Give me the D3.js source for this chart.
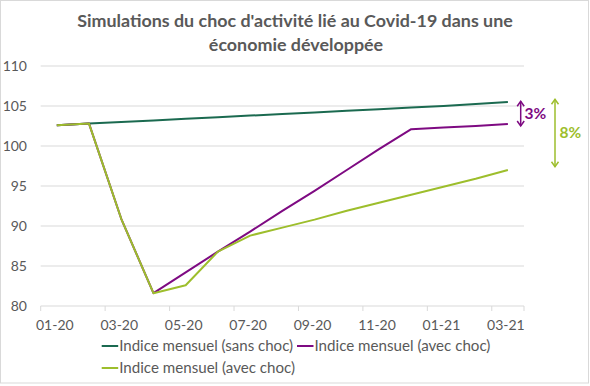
<!DOCTYPE html>
<html>
<head>
<meta charset="utf-8">
<script src="https://cdn.jsdelivr.net/npm/d3@7"></script>
<style>
	body { margin: 0; background: #fff; }
	svg text { font-family: Lato, 'Open Sans', sans-serif; }
</style>
</head>
<body>
<svg id="chart"></svg>
<script>
// ========== DATA ==========
var months = ['01-20', '02-20', '03-20', '04-20', '05-20', '06-20', '07-20', '08-20',
	'09-20', '10-20', '11-20', '12-20', '01-21', '02-21', '03-21'];
var sansChoc = [102.6, 102.8, 103.0, 103.2, 103.4, 103.6, 103.8, 104.0, 104.2, 104.4, 104.6, 104.8, 105.0, 105.25, 105.5];
var avecChocViolet = [102.6, 102.8, 90.9, 81.6, 84.2, 86.8, 89.3, 91.9, 94.4, 97.0, 99.6, 102.1, 102.3, 102.5, 102.75];
var avecChocVert = [102.6, 102.8, 90.9, 81.6, 82.6, 86.8, 88.8, 89.8, 90.8, 91.9, 92.9, 93.9, 94.9, 95.9, 97.0];
var yTicks = [80, 85, 90, 95, 100, 105, 110];
var seriesNames = ['Indice mensuel (sans choc)', 'Indice mensuel (avec choc)', 'Indice mensuel (avec choc)'];
// annotation arrows: top / bottom value, label
var gaps = [
	{label: '3%', top: 105.6, bottom: 102.5},
	{label: '8%', top: 105.85, bottom: 97.4}
];

// ========== STYLE ==========
var W = 590, H = 386;
var text_color = '#595959';
var grid_color = '#d9d9d9';
var colors = ['#1b6a50', '#7e0a82', '#9dbe2c'];

var svg = d3.select('#chart').attr('width', W).attr('height', H);

// border
svg.append('rect')
	.attr('x', 0.5).attr('y', 0.5)
	.attr('width', 588).attr('height', 382.5)
	.attr('fill', '#fff')
	.attr('stroke', grid_color);

var x = d3.scaleBand().domain(months).range([40.7, 524]).paddingInner(0).paddingOuter(0);
var y = d3.scaleLinear().domain([80, 110]).range([306, 66]);
function cx(m) { return x(m) + x.bandwidth() / 2; }

// grid
svg.append('g')
	.selectAll('line')
	.data(yTicks.slice(1))
	.enter().append('line')
	.attr('x1', 40.7).attr('x2', 524)
	.attr('y1', function(d) { return y(d); })
	.attr('y2', function(d) { return y(d); })
	.attr('stroke', grid_color)
	.attr('stroke-width', 1);

// y labels
svg.append('g')
	.selectAll('text')
	.data(yTicks)
	.enter().append('text')
	.attr('x', 27)
	.attr('y', function(d) { return y(d); })
	.attr('dy', '0.35em')
	.attr('text-anchor', 'end')
	.attr('fill', text_color)
	.style('font-size', '14px')
	.text(function(d) { return d; });

// x axis line + ticks
svg.append('line')
	.attr('x1', 40.7).attr('x2', 524)
	.attr('y1', y(80)).attr('y2', y(80))
	.attr('stroke', grid_color);

var tickPos = months.filter(function(d, i) { return i % 2 === 0; }).map(function(m) { return x(m); });
tickPos.push(524);
svg.append('g')
	.selectAll('line')
	.data(tickPos)
	.enter().append('line')
	.attr('x1', function(d) { return d; })
	.attr('x2', function(d) { return d; })
	.attr('y1', y(80)).attr('y2', y(80) + 5)
	.attr('stroke', grid_color);

svg.append('g')
	.selectAll('text')
	.data(months.filter(function(d, i) { return i % 2 === 0; }))
	.enter().append('text')
	.attr('x', function(d) { return cx(d) - 2; })
	.attr('y', 330)
	.attr('text-anchor', 'middle')
	.attr('fill', text_color)
	.style('font-size', '14px')
	.text(function(d) { return d; });

// lines
var line = d3.line()
	.x(function(d, i) { return cx(months[i]); })
	.y(function(d) { return y(d); });

[sansChoc, avecChocViolet, avecChocVert].forEach(function(s, i) {
	svg.append('path')
		.datum(s)
		.attr('d', line)
		.attr('fill', 'none')
		.attr('stroke', colors[i])
		.attr('stroke-width', 2)
		.attr('stroke-linejoin', 'round');
});

// gap arrows
var arrowX = [520.7, 555];
var labelX = [524.5, 559.5];
var gapColors = [colors[1], colors[2]];
gaps.forEach(function(g, i) {
	var ax = arrowX[i];
	var y1 = y(g.top), y2 = y(g.bottom);
	var a = svg.append('g')
		.attr('stroke', gapColors[i])
		.attr('stroke-width', 1.5)
		.attr('fill', 'none');
	a.append('line').attr('x1', ax).attr('x2', ax).attr('y1', y1).attr('y2', y2);
	a.append('path').attr('d', d3.line()([[ax - 3.5, y1 + 5], [ax, y1], [ax + 3.5, y1 + 5]]));
	a.append('path').attr('d', d3.line()([[ax - 3.5, y2 - 5], [ax, y2], [ax + 3.5, y2 - 5]]));
	svg.append('text')
		.attr('x', labelX[i])
		.attr('y', (y1 + y2) / 2 - 0.5)
		.attr('dy', '0.35em')
		.attr('fill', gapColors[i])
		.style('font-size', '15.5px')
		.style('font-weight', 'bold')
		.text(g.label);
});

// fit a text to a given width
function fit(t, w) {
	var cur = parseFloat(t.style('font-size'));
	var len = t.node().getComputedTextLength();
	t.style('font-size', (cur * w / len) + 'px');
}

// title
var t1 = svg.append('text')
	.attr('x', 295).attr('y', 27)
	.attr('text-anchor', 'middle')
	.attr('fill', text_color)
	.style('font-size', '18px')
	.style('font-weight', 'bold')
	.text("Simulations du choc d'activité lié au Covid-19 dans une");
fit(t1, 436);
svg.append('text')
	.attr('x', 296).attr('y', 51)
	.attr('text-anchor', 'middle')
	.attr('fill', text_color)
	.style('font-size', t1.style('font-size'))
	.style('font-weight', 'bold')
	.text('économie développée');

// legend
var legendItems = [
	{x: 101.7, y: 346, w: 174},
	{x: 297, y: 346, w: 176},
	{x: 101.7, y: 368, w: 176}
];
legendItems.forEach(function(it, i) {
	svg.append('line')
		.attr('x1', it.x).attr('x2', it.x + 16.5)
		.attr('y1', it.y).attr('y2', it.y)
		.attr('stroke', colors[i])
		.attr('stroke-width', 2);
	var t = svg.append('text')
		.attr('x', it.x + 17.5)
		.attr('y', it.y)
		.attr('dy', '0.35em')
		.attr('fill', text_color)
		.style('font-size', '14px')
		.text(seriesNames[i]);
	fit(t, it.w);
});
</script>
</body>
</html>
